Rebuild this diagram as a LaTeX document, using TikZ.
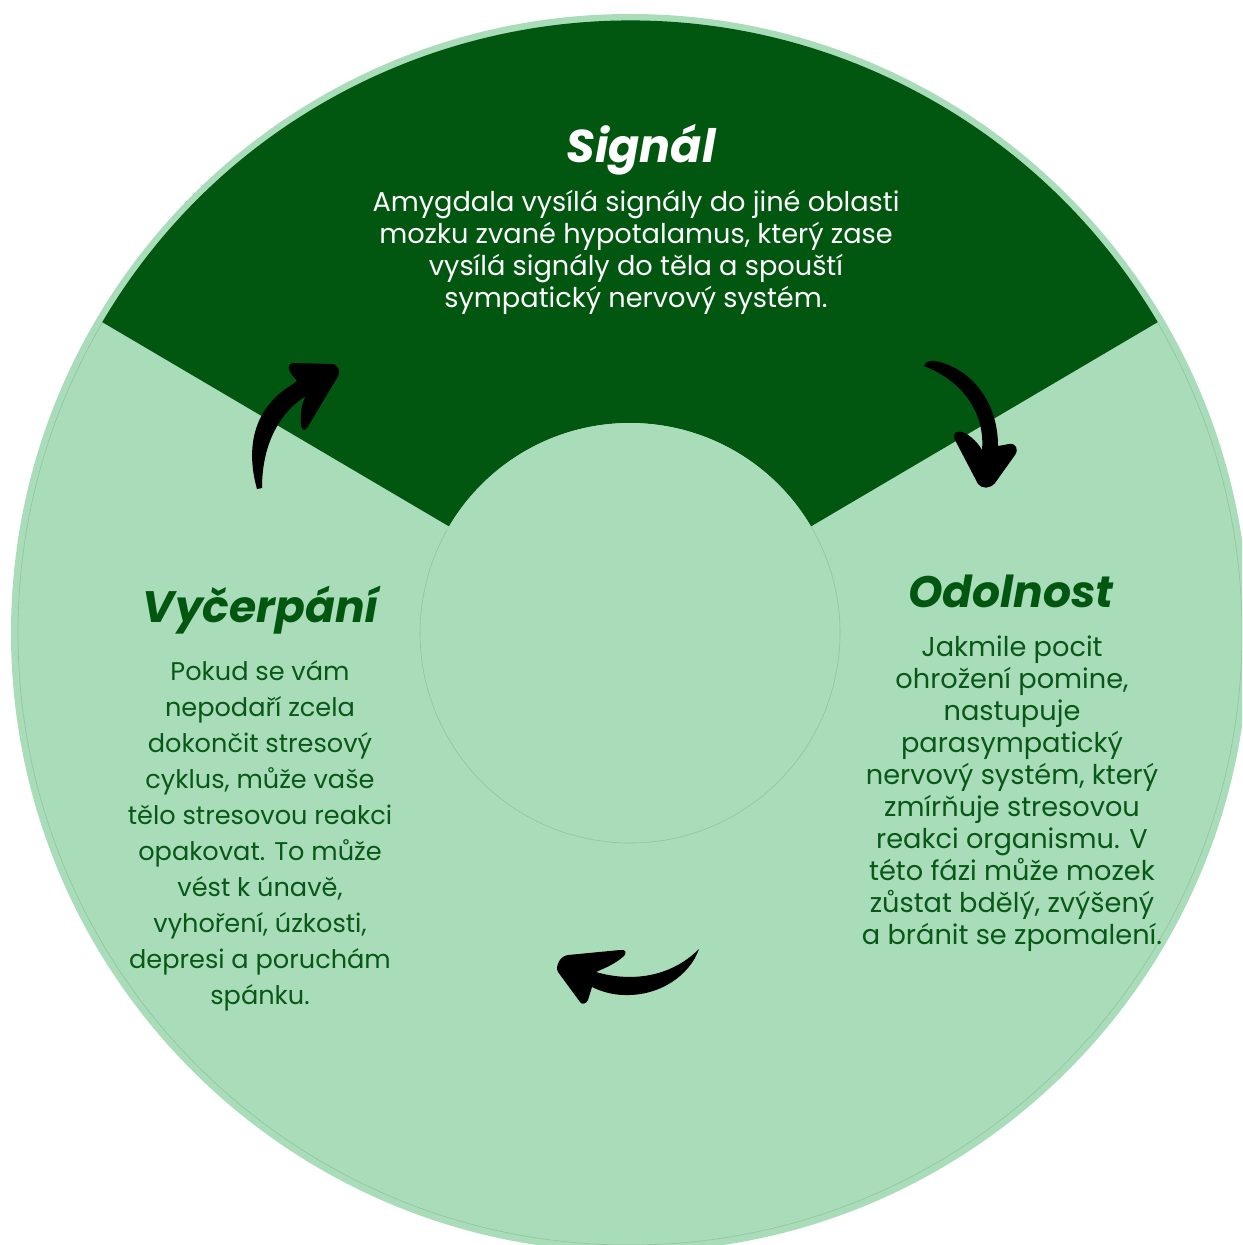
\documentclass[tikz,border=0pt]{standalone}
\usepackage{fontspec}
\setmainfont{Poppins}
\usetikzlibrary{calc}
\definecolor{dkgreen}{RGB}{1,87,16}
\definecolor{ltgreen}{RGB}{169,220,185}
\definecolor{txgreen}{RGB}{8,88,24}
\definecolor{faint}{RGB}{148,194,160}
\tikzset{
  titletext/.style={font=\fontsize{22}{26}\selectfont\bfseries\itshape, inner sep=0pt, anchor=base},
  bodytext/.style={font=\fontsize{13.6}{16}\selectfont, align=center, inner sep=0pt, anchor=base},
  lefttext/.style={font=\fontsize{12.8}{18}\selectfont, align=center, inner sep=0pt, anchor=base},
  brush/.style={fill=black, draw=none}
}
\begin{document}
\begin{tikzpicture}[x=0.5pt,y=-0.5pt]
\useasboundingbox (0,0) rectangle (1242,1245);
\clip (0,0) rectangle (1242,1245);
\coordinate (c) at (630,633);
% outer disc
\fill[ltgreen] (c) circle[radius=619];
\draw[faint, line width=0.3pt] (c) circle[radius=612];
% dark sector
\fill[dkgreen] ($(c)+(-149.5:612.5)$) arc[start angle=-149.5, end angle=-30.5, radius=612.5]
  -- ($(c)+(-30.5:210)$) arc[start angle=-30.5, end angle=-149.5, radius=210] -- cycle;
% inner disc
\fill[ltgreen] (c) circle[radius=210];
\draw[faint, line width=0.3pt] ($(c)+(-30.5:210)$) arc[start angle=-30.5, end angle=209.5, radius=210];

% arrows
\path[brush] (257,489) .. controls (246,450) and (252,410) .. (290,386)
  -- (297,381) -- (292,375) .. controls (288,370) and (287,364) .. (293,363)
  -- (332,364) .. controls (339,365) and (341,372) .. (337,378)
  -- (307,428) .. controls (304,432) and (301,429) .. (301,424)
  .. controls (300,412) and (302,403) .. (306,396)
  .. controls (283,410) and (262,440) .. (262,488) -- cycle;
\path[brush] (924,366) .. controls (926,360) and (932,360) .. (940,362)
  .. controls (975,372) and (998,405) .. (998,446)
  -- (1009,444) .. controls (1016,443) and (1019,449) .. (1015,455)
  -- (995,483) .. controls (990,489) and (982,489) .. (978,484)
  -- (955,440) .. controls (951,432) and (958,430) .. (965,433)
  .. controls (972,437) and (978,443) .. (982,450)
  .. controls (985,415) and (965,382) .. (924,366) -- cycle;
\path[brush] (699,949) .. controls (690,975) and (660,996) .. (625,995)
  .. controls (612,995) and (600,991) .. (592,987)
  -- (588,1000) .. controls (586,1004) and (582,1005) .. (580,1002)
  -- (558,972) .. controls (555,966) and (560,956) .. (568,955)
  -- (620,950) .. controls (626,949) and (627,953) .. (624,956)
  .. controls (615,964) and (605,968) .. (596,972)
  .. controls (630,982) and (670,978) .. (699,949) -- cycle;

% texts (base anchor = baseline of the last line)
\node[titletext, text=white, font=\fontsize{23}{26}\selectfont\bfseries\itshape] (sigtitle) at (641,163) {Signál};
\node[bodytext, text=white] (sigbody) at (636,308) {Amygdala vysílá signály do jiné oblasti\\mozku zvané hypotalamus, který zase\\vysílá signály do těla a spouští\\sympatický nervový systém.};
\node[titletext, text=dkgreen] (odtitle) at (1011,607) {Odolnost};
\node[bodytext, text=txgreen] (odbody) at (1012,944) {Jakmile pocit\\ohrožení pomine,\\nastupuje\\parasympatický\\nervový systém, který\\zmírňuje stresovou\\reakci organismu. V\\této fázi může mozek\\zůstat bdělý, zvýšený\\a bránit se zpomalení.};
\node[titletext, text=dkgreen] (vytitle) at (261,622) {Vyčerpání};
\node[lefttext, text=txgreen] (vybody) at (260,1004) {Pokud se vám\\nepodaří zcela\\dokončit stresový\\cyklus, může vaše\\tělo stresovou reakci\\opakovat. To může\\vést k únavě,\\vyhoření, úzkosti,\\depresi a poruchám\\spánku.};
\end{tikzpicture}
\end{document}
